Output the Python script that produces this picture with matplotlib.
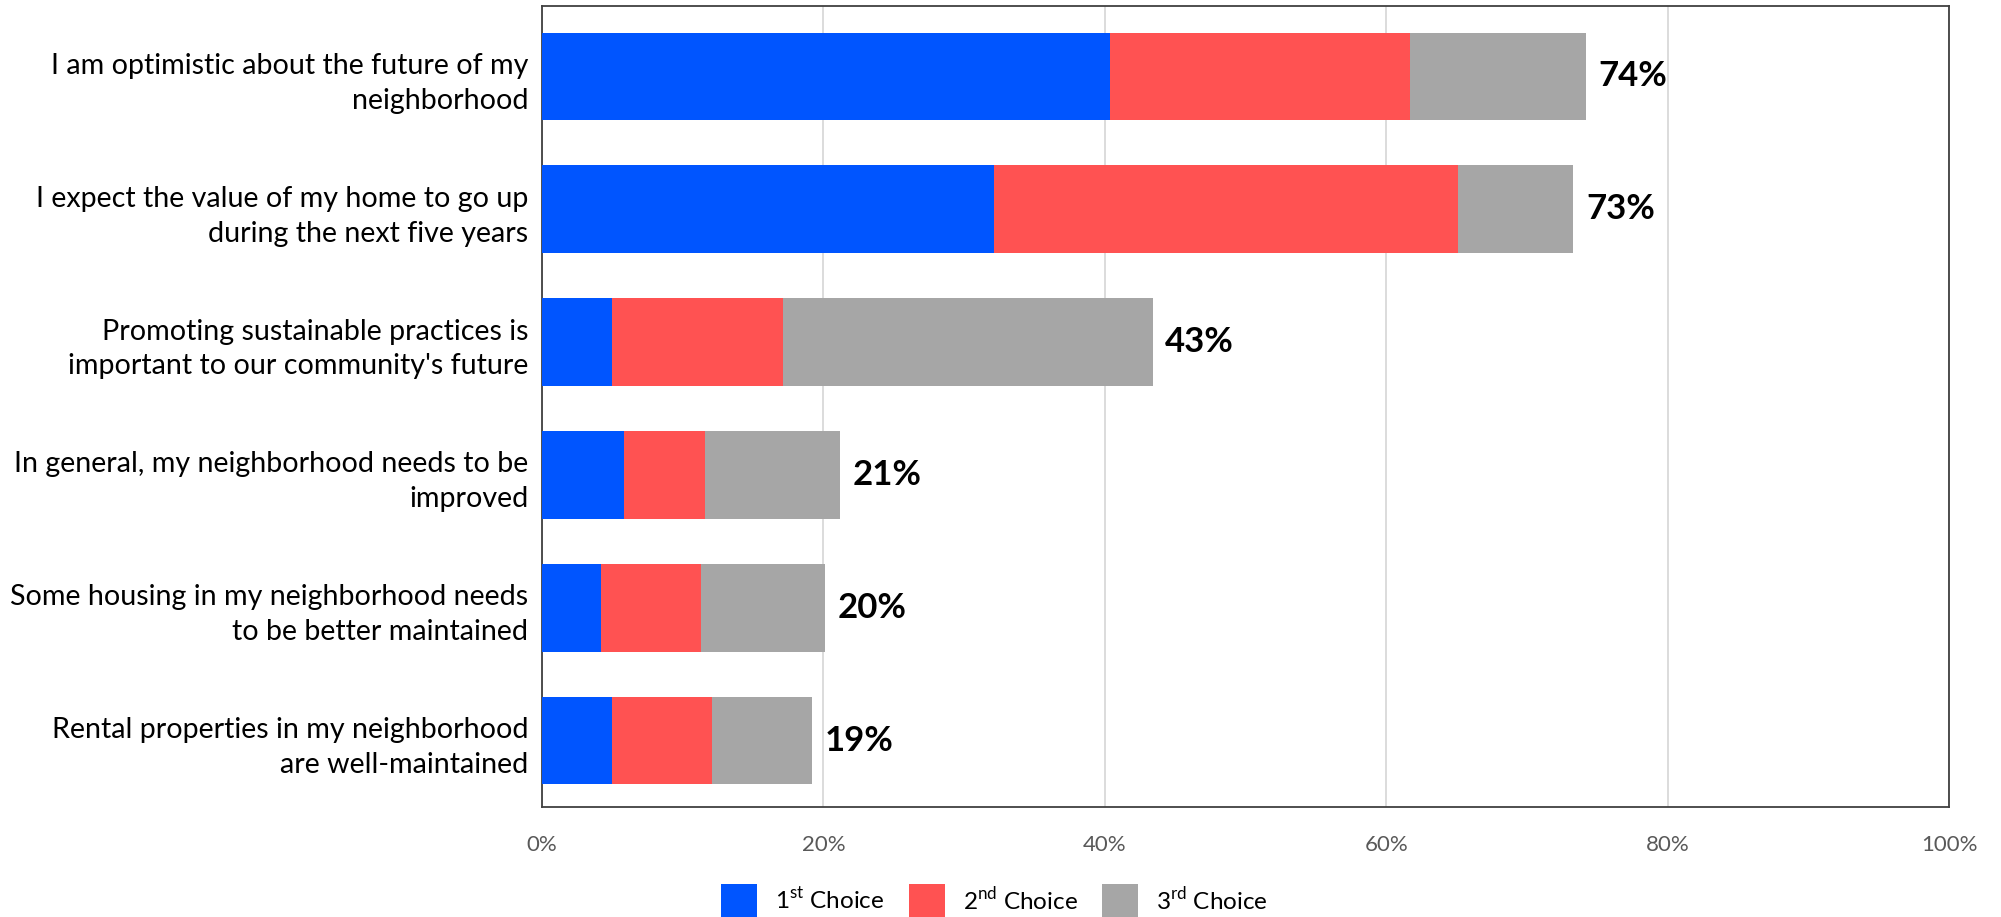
import matplotlib.pyplot as plt
from matplotlib.patches import Patch
from matplotlib.ticker import FuncFormatter

plt.rcParams["font.family"] = ["Lato", "DejaVu Sans"]
plt.rcParams["mathtext.fontset"] = "custom"
plt.rcParams["mathtext.rm"] = "Lato"

statements = [
    "I am optimistic about the future of my\nneighborhood",
    "I expect the value of my home to go up\nduring the next five years",
    "Promoting sustainable practices is\nimportant to our community's future",
    "In general, my neighborhood needs to be\nimproved",
    "Some housing in my neighborhood needs\nto be better maintained",
    "Rental properties in my neighborhood\nare well-maintained",
]
first_choice = [40.4, 32.1, 5.0, 5.8, 4.2, 5.0]
second_choice = [21.3, 33.0, 12.1, 5.8, 7.1, 7.1]
third_choice = [12.5, 8.2, 26.3, 9.6, 8.8, 7.1]
series_names = [r"1$^{\mathrm{st}}$ Choice", r"2$^{\mathrm{nd}}$ Choice", r"3$^{\mathrm{rd}}$ Choice"]
colors = ["#0055FF", "#FF5252", "#A6A6A6"]
x_ticks = [0, 20, 40, 60, 80, 100]


def main():
    fig = plt.figure(figsize=(20.01, 9.17), dpi=100)
    ax = fig.add_axes([0.2709, 0.12, 0.7031, 0.8735])

    ypos = list(range(len(statements)))
    left = [0.0] * len(statements)
    for vals, col in zip([first_choice, second_choice, third_choice], colors):
        ax.barh(ypos, vals, left=left, height=0.66, color=col, zorder=3)
        left = [l + v for l, v in zip(left, vals)]

    # total label next to each bar
    for y, total in zip(ypos, left):
        ax.text(total + 0.9, y, f"{round(total)}%", va="center", ha="left",
                fontsize=25, fontweight="bold", color="black")

    ax.set_xlim(0, 100)
    ax.set_ylim(5.5, -0.53)
    ax.set_xticks(x_ticks)
    ax.xaxis.set_major_formatter(FuncFormatter(lambda v, p: f"{v:.0f}%"))
    ax.set_yticks(ypos)
    ax.set_yticklabels(statements, fontsize=20.6, color="black", linespacing=1.42)
    ax.tick_params(axis="x", length=0, pad=20, labelsize=16, labelcolor="#595959")
    ax.tick_params(axis="y", length=0, pad=10)
    ax.grid(axis="x", color="#D9D9D9", linewidth=1.3, zorder=0)
    for s in ax.spines.values():
        s.set_color("#404040")
        s.set_linewidth(1.3)

    handles = [Patch(facecolor=c) for c in colors]
    fig.legend(handles, series_names, loc="center", bbox_to_anchor=(0.497, 0.0165),
               ncol=3, frameon=False, fontsize=17.5, handlelength=1.48, handleheight=1.85,
               columnspacing=1.0, handletextpad=0.74)

    fig.savefig("out.png", dpi=100)


if __name__ == "__main__":
    main()
